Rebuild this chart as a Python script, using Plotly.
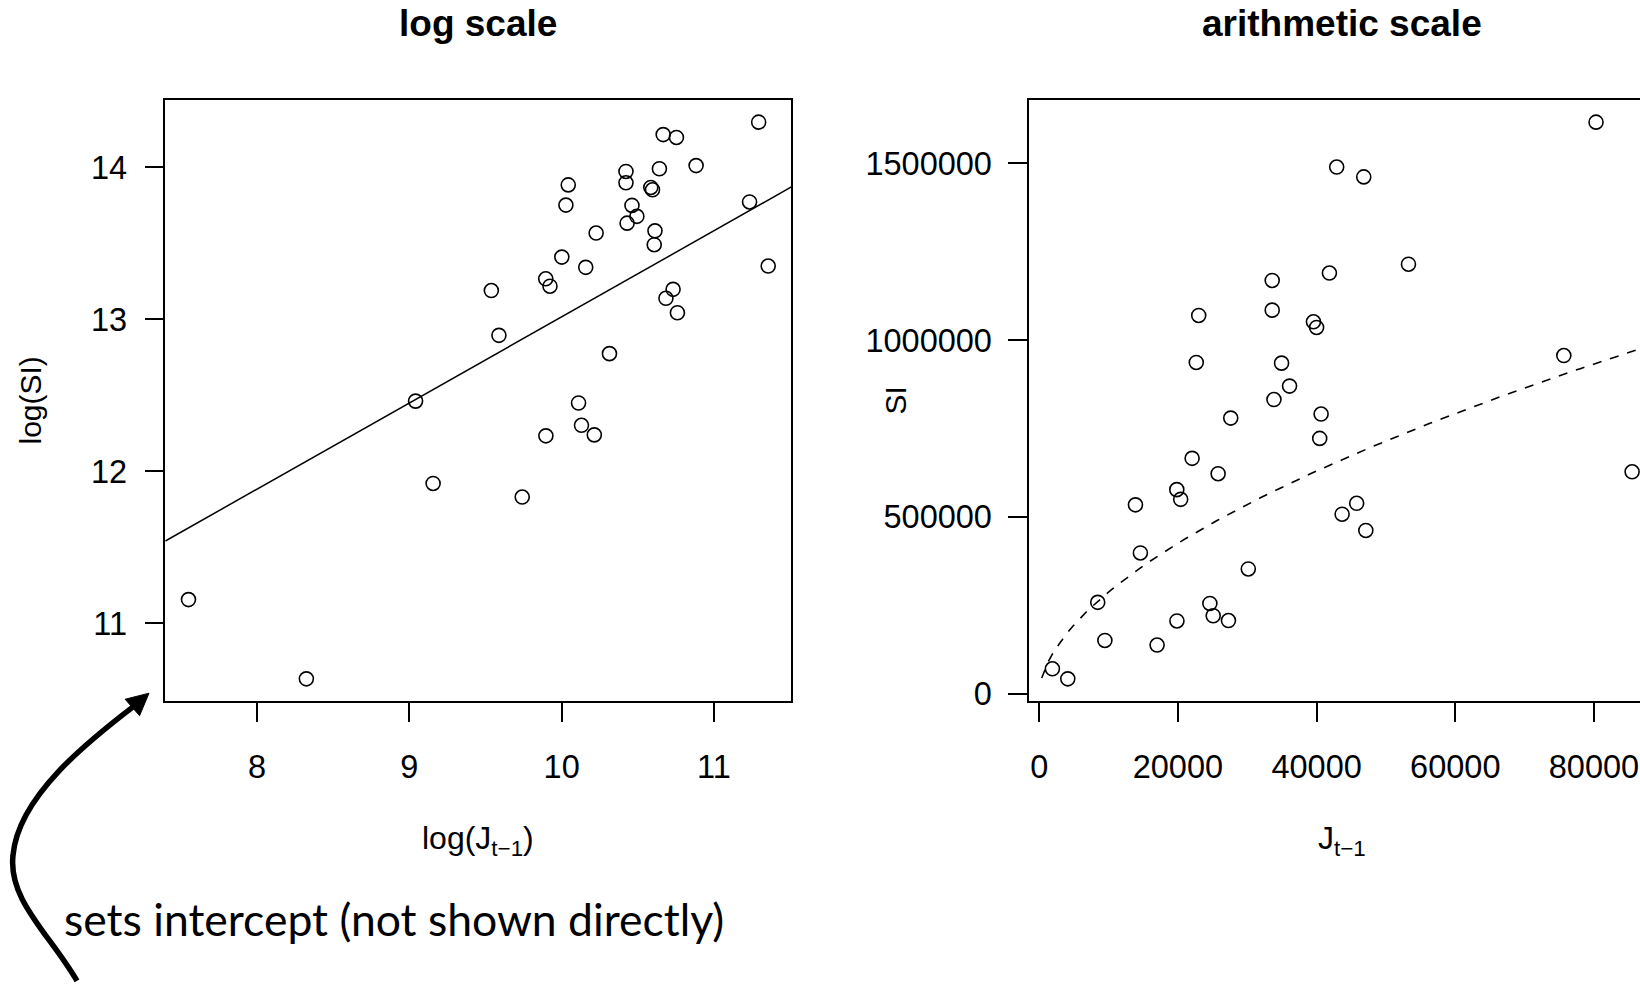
import numpy as np
import plotly.graph_objects as go

# Lagged J (J_{t-1}) and SI for each year
J = [80300, 42900, 46800, 53250, 41850, 33600, 33600, 23000, 39550, 40000,
     22650, 75650, 34950, 36100, 33850, 40650, 40450, 27620, 85500, 22050,
     25800, 19840, 20400, 13880, 45780, 43680, 47100, 14590, 30150, 8440,
     24610, 25090, 19860, 27290, 9470, 17000, 1900, 4120]
SI = [1617000, 1490000, 1462000, 1215000, 1190000, 1169000, 1085000, 1070000,
      1052000, 1036000, 937000, 956500, 935000, 870000, 832000, 791000, 722000,
      779500, 627500, 665500, 622000, 577000, 549500, 534000, 538300, 507500,
      461400, 397700, 352600, 258000, 254800, 220100, 205300, 206600, 150100,
      137250, 69900, 41500]

# fitted log-log relationship: log(SI) = a + b * log(J)
fit_intercept = 7.349
fit_slope = 0.5666

left_xticks = [8, 9, 10, 11]
left_yticks = [11, 12, 13, 14]
right_xticks = [0, 20000, 40000, 60000, 80000]
right_yticks = [0, 500000, 1000000, 1500000]

W, H = 1640, 990
FONT = "Liberation Sans, Arial, Helvetica, sans-serif"


def px(x):
    return x / W


def py(y):
    return 1 - y / H


def pad_range(v, frac=0.04):
    lo, hi = float(np.min(v)), float(np.max(v))
    d = (hi - lo) * frac
    return [lo - d, hi + d]


logJ = np.log(J)
logSI = np.log(SI)

# panel boxes in pixels
L_X0, L_X1 = 165.3, 791.4
R_X0 = 1029.2
PANEL_W = L_X1 - L_X0
Y_TOP, Y_BOT = 101.0, 709.0

lx_range = pad_range(logJ)
ly_range = pad_range(logSI)
rx_full = pad_range(J)
ry_range = pad_range(SI)
# right panel runs off the page edge: keep only the visible part of its x range
vis_frac = (W - R_X0) / PANEL_W
rx_range = [rx_full[0], rx_full[0] + vis_frac * (rx_full[1] - rx_full[0])]

fig = go.Figure()

marker = dict(symbol="circle-open", size=14, color="black", line=dict(width=1.6, color="black"))

fig.add_trace(go.Scatter(x=logJ, y=logSI, mode="markers", marker=marker,
                         xaxis="x", yaxis="y", showlegend=False))
lx = np.array(lx_range)
fig.add_trace(go.Scatter(x=lx, y=fit_intercept + fit_slope * lx, mode="lines",
                         line=dict(color="black", width=1.5),
                         xaxis="x", yaxis="y", showlegend=False))

fig.add_trace(go.Scatter(x=J, y=SI, mode="markers", marker=marker,
                         xaxis="x2", yaxis="y2", showlegend=False))
grid = np.linspace(rx_full[0], rx_full[1], 101)
grid = grid[grid > 0]
fig.add_trace(go.Scatter(x=grid, y=np.exp(fit_intercept) * grid ** fit_slope, mode="lines",
                         line=dict(color="black", width=1.6, dash="9px,9px"),
                         xaxis="x2", yaxis="y2", showlegend=False))

axis_common = dict(showgrid=False, zeroline=False, showline=True, linecolor="black",
                   linewidth=1.5, ticks="outside", ticklen=19, tickwidth=1.5,
                   tickcolor="black", tickfont=dict(family=FONT, size=32.5, color="black"))

fig.update_layout(
    width=W, height=H,
    margin=dict(l=0, r=0, t=0, b=0),
    paper_bgcolor="white", plot_bgcolor="white",
    xaxis=dict(domain=[px(L_X0), px(L_X1)], range=lx_range, tickvals=left_xticks,
               ticktext=[str(t) for t in left_xticks], mirror=True, anchor="y",
               ticklabelstandoff=17, **axis_common),
    yaxis=dict(domain=[py(Y_BOT), py(Y_TOP)], range=ly_range, tickvals=left_yticks,
               ticktext=[str(t) for t in left_yticks], mirror=True, anchor="x",
               ticklabelstandoff=11, **axis_common),
    xaxis2=dict(domain=[px(R_X0), 1.0], range=rx_range, tickvals=right_xticks,
                ticktext=[str(t) for t in right_xticks], mirror=True, anchor="y2",
                ticklabelstandoff=17, **axis_common),
    yaxis2=dict(domain=[py(Y_BOT), py(Y_TOP)], range=ry_range, tickvals=right_yticks,
                ticktext=[str(t) for t in right_yticks], mirror=False, anchor="x2",
                ticklabelstandoff=10, **axis_common),
)

ann = []
ann.append(dict(text="<b>log scale</b>", x=px((L_X0 + L_X1) / 2), y=py(24),
                font=dict(family=FONT, size=37, color="black")))
ann.append(dict(text="<b>arithmetic scale</b>", x=px(R_X0 + PANEL_W / 2), y=py(24),
                font=dict(family=FONT, size=37, color="black")))
ann.append(dict(text="log(J<sub>t\u22121</sub>)", x=px((L_X0 + L_X1) / 2), y=py(850),
                font=dict(family=FONT, size=32, color="black")))
ann.append(dict(text="J<sub>t\u22121</sub>", x=px(R_X0 + PANEL_W / 2), y=py(850),
                font=dict(family=FONT, size=32, color="black")))
ann.append(dict(text="log(SI)", x=px(30), y=py(405), textangle=-90,
                font=dict(family=FONT, size=30, color="black")))
ann.append(dict(text="SI", x=px(895), y=py(405), textangle=-90,
                font=dict(family=FONT, size=30, color="black")))
ann.append(dict(text="sets intercept (not shown directly)", x=px(62), y=py(929),
                xanchor="left", font=dict(family="Lato, sans-serif", size=44.5, color="black")))
for a in ann:
    a.setdefault("xanchor", "center")
    a.update(xref="paper", yref="paper", yanchor="middle", showarrow=False)
fig.update_layout(annotations=ann)


# curved arrow pointing at the lower-left corner of the log panel
def P(x, y):
    return f"{px(x):.5f},{py(y):.5f}"


arrow_path = (f"M {P(77, 992)} C {P(50, 945)} {P(8, 910)} {P(13, 865)} "
              f"C {P(18, 805)} {P(90, 748)} {P(134, 714)}")
tip = np.array([149.0, 701.0])
d = tip - np.array([134.0, 714.0])
d = d / np.linalg.norm(d)
n = np.array([-d[1], d[0]])
base = tip - 22 * d
c1 = base + 11 * n
c2 = base - 11 * n
head_path = f"M {P(*tip)} L {P(*c1)} L {P(*c2)} Z"

fig.update_layout(shapes=[
    dict(type="path", xref="paper", yref="paper", path=arrow_path,
         line=dict(color="black", width=5.5)),
    dict(type="path", xref="paper", yref="paper", path=head_path,
         fillcolor="black", line=dict(color="black", width=1)),
])

fig.write_html("out.html")
